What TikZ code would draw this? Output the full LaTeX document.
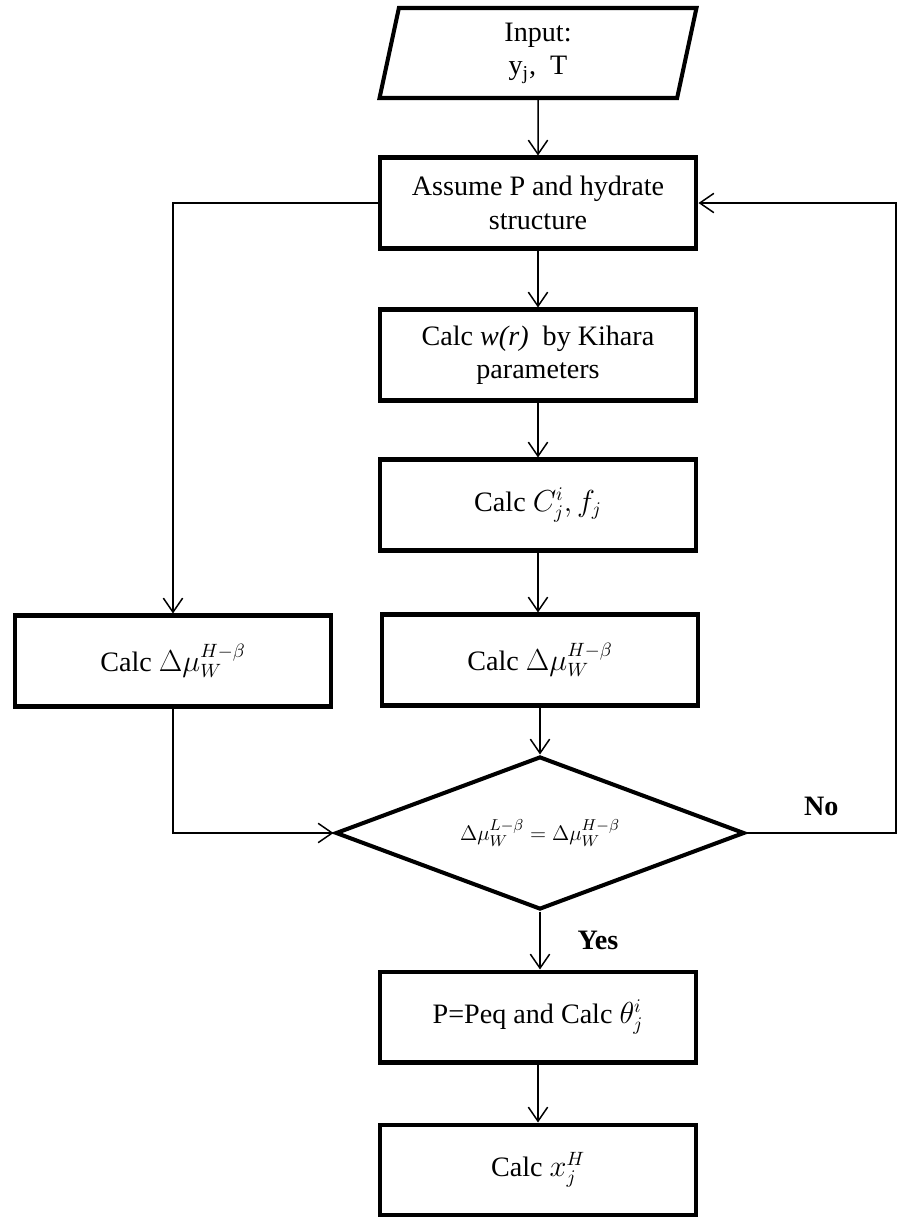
\documentclass[tikz,border=0pt]{standalone}
\usepackage{fontspec}
\setmainfont{Liberation Serif}
\usetikzlibrary{shapes.geometric,arrows.meta,positioning}

\tikzset{
  box/.style={draw, line width=2.3pt, minimum width=6.34cm, minimum height=1.82cm,
    align=center, font=\fontsize{16}{19}\selectfont},
  flow/.style={line width=0.85pt, -{Straight Barb[length=8pt,width=11pt]}},
  lbl/.style={font=\fontsize{16}{19}\selectfont\bfseries},
}

\begin{document}
\begin{tikzpicture}[x=0.02cm, y=-0.02cm]
  \useasboundingbox (0,0) rectangle (897,1217);

  % 输入
  \node[box, trapezium, trapezium left angle=75, trapezium right angle=105,
    trapezium stretches body=true, minimum height=1.8cm] (input) at (538,53)
    {Input:\\ y\textsubscript{j},~ T};

  % 主列
  \node[box] (assume) at (538,203) {Assume P and hydrate\\ structure};
  \node[box] (kihara) at (538,355) {Calc \textit{w(r)}~ by Kihara\\ parameters};
  \node[box] (calcC) at (538,505) {Calc $C_j^i, f_j$};
  \node[box] (dmu) at (540,660) {Calc $\Delta\mu_W^{H-\beta}$};
  \node[box] (lbox) at (173,661) {Calc $\Delta\mu_W^{H-\beta}$};

  % 判断
  \node[diamond, draw, line width=2.3pt, aspect=2.67, inner sep=0pt,
    minimum width=8.18cm, minimum height=3.06cm,
    font=\fontsize{12.5}{15}\selectfont] (test) at (540,833)
    {$\Delta\mu_W^{L-\beta} = \Delta\mu_W^{H-\beta}$};

  \node[box] (peq) at (538,1017) {P=Peq and Calc $\theta_j^i$};
  \node[box] (xh) at (538,1170) {Calc $x_j^H$};

  % 箭头
  \draw[flow] (input) -- (assume);
  \draw[flow] (assume) -- (kihara);
  \draw[flow] (kihara) -- (calcC);
  \draw[flow] (calcC.south) -- (calcC.south |- dmu.north);
  \draw[flow] (dmu) -- (test);
  \draw[flow] (test.south) -- node[lbl, anchor=west, xshift=0.62cm] (yes) {Yes}
    (test.south |- peq.north);
  \draw[flow] (peq) -- (xh);

  % 左分支
  \draw[flow] (assume.west) -| (lbox.north);
  \draw[flow] (lbox.south) |- (test.west);

  % 回路
  \coordinate (rturn) at (896,833);
  \draw[flow] (test.east) -- node[lbl, midway, above, yshift=6pt] (no) {No} (rturn)
    -- (rturn |- assume.east) -- (assume.east);
\end{tikzpicture}
\end{document}
